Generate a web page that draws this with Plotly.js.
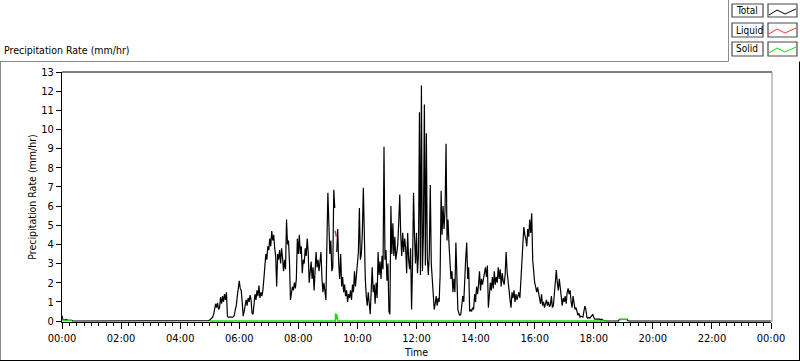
<!DOCTYPE html>
<html><head><meta charset="utf-8">
<script src="https://cdn.plot.ly/plotly-3.0.1.min.js"></script>
<style>html,body{margin:0;padding:0;background:#fff;}#chart{width:800px;height:361px;}</style>
</head><body><div id="chart"></div>
<script>
// ---------------- data ----------------
const tickMinutes = [0,120,240,360,480,600,720,840,960,1080,1200,1320,1440];
const tickLabels = ['00:00','02:00','04:00','06:00','08:00','10:00','12:00','14:00','16:00','18:00','20:00','22:00','00:00'];

const totalLeadMinutes = [0,1,2,4,8,12,16,20,22,288];
const totalLeadValues  = [0.28,0.1,0.06,0.05,0.08,0.05,0.05,0.03,0,0];

const totalStartMinute = 290;
const totalStepMinutes = 2;
const totalValues = [
0,0,0,0,0.02, 0.05,0.1,0.15,0.2,0.35, 0.6,0.9,0.7,0.95,0.6, 0.7,1.25,0.9,1.3,1.0,
1.4,1.1,1.5,0.25,0.2, 0.2,0.18,0.2,0.2,0.22, 0.3,0.6,0.8,1.3,1.6, 2.1,1.7,1.6,1.0,0.25,
0.5,0.9,1.1,0.8,1.2, 1.0,1.35,1.1,0.4,0.35, 0.9,1.4,1.1,1.6,1.3, 1.85,1.2,1.5,1.3,1.6,
2.2,3.0,3.5,3.2,3.9,3.7, 4.3,3.9,4.7,4.2,4.5, 3.8,3.4,1.8,3.5,3.2, 3.7,3.0,3.8,3.3,2.6,
3.2,2.7,5.3,4.0,4.2, 3.1,1.1,1.4,1.8,1.6, 2.0,1.7,2.2,4.3,3.5, 4.5,3.5,3.9,2.5,3.2,
3.0,3.8,3.4,4.3,3.6, 2.0,2.5,3.1,2.2,2.8, 1.6,2.5,3.6,2.8,3.2, 2.6,3.0,3.6,2.2,1.5,
2.0,1.6,1.1,4.0,6.7, 5.1,3.5,4.2,2.6,2.8,6.85, 5.9,null,3.6,4.8,3.0, 2.2,3.5,1.8,2.3,1.5,
1.9,1.3,1.6,1.0,1.4, 1.2,1.6,1.1,1.9,1.5, 2.6,1.8,2.4,3.3,3.6, 5.9,3.2,3.5,4.6,6.95,
4.0,2.2,1.3,0.8,1.5, 0.6,0.35,1.6,2.8,1.5, 1.9,0.9,2.0,1.2,3.6, 2.4,3.1,2.2,3.4,2.7,
9.1,3.2,3.7,2.1,3.0, 0.5,0.35,6.0,3.5,5.1, 3.4,4.4,3.2,3.6,4.0,5.2, 6.6,4.5,3.4,4.6,3.6,
4.3,3.8,2.5,4.6,3.2, 2.7,3.8,0.6,3.0,6.7, 4.4,3.0,4.6,2.5,3.5, 10.9,2.4,12.3,2.6,4.5,
11.3,2.9,9.8,3.3,2.4, 3.5,7.1,3.0,2.2,1.2, 0.6,0.9,1.3,0.8,1.2, 1.0,2.4,6.8,4.5,6.0,
4.8,5.8,9.25,4.2,5.3, 4.0,2.7,2.2,2.6,1.5, 2.2,1.5,4.1,2.0,0.6, 0.4,0.3,0.35,0.9,1.3,1.0,
2.8,3.3,4.1,2.2,2.8, 0.5,0.6,0.5,0.7,0.6, 1.4,1.0,1.8,1.4,1.9, 2.6,1.6,2.2,1.9,2.3,
2.5,2.8,2.3,2.9,0.7, 1.4,2.0,1.6,2.3,1.7, 2.6,1.9,2.3,2.0,2.8, 2.2,2.7,1.8,2.5,2.1,
1.9,2.4,3.6,2.6,2.2, 1.6,1.1,0.7,1.5,1.2, 1.6,1.0,1.4,1.1,1.3, 1.5,1.2,2.1,3.2,4.0,
4.9,4.5,4.3,3.9,4.8,4.4, 5.3,4.6,5.62,3.2,2.3, 2.0,1.8,1.5,1.75,1.4, 1.2,0.9,1.4,0.8,1.0,
0.7,0.9,1.1,0.8,1.0, 0.75,0.85,1.3,0.7,0.8, 1.5,2.1,2.66,2.0,1.6, 2.2,1.7,1.4,0.8,1.2,
1.0,1.3,0.9,1.5,1.7, 1.4,1.6,1.0,0.7,1.3, 0.8,0.6,0.7,0.5,0.3, 0.4,0.2,0.25,0.2,0.2,
0.5,0.78,0.6,0.2,0.15,0.18, 0.15,0.2,0.3,0.35,0.2, 0.1,0.1,0.1,0.08,0.1, 0.1,0.05,0.1,0.05,0.03,
0.02,0.01,0,0,0
];

const totalTailMinutes = [1112,1130,1132,1148,1150,1440];
const totalTailValues  = [0,0,0.08,0.08,0,0];

const liquidMinutes = [555,557];
const liquidValues  = [4.7,4.4];

const solidMinutes = [1,20,21,300,555,556,557,558,560,1106,1107,1132,1134,1146,1148];
const solidValues  = [0.03,0.03,null,0,0,0.4,0.1,0.35,0,0,null,0.04,0.08,0.08,0.04];

const seriesNames = ['Total','Liquid','Solid'];

// ---------------- build ----------------
const totalX = totalLeadMinutes.slice();
const totalY = totalLeadValues.slice();
totalValues.forEach((v,i)=>{ totalX.push(totalStartMinute + i*totalStepMinutes); totalY.push(v); });
totalTailMinutes.forEach((m,i)=>{ totalX.push(m); totalY.push(totalTailValues[i]); });

const FONT = '"DejaVu Sans Condensed", "Liberation Sans", sans-serif';
const FS = 10.5;
const L=62, T=72, PW=709, PH=250, W=800, H=361;
const px = x => (x-L)/PW;
const py = y => (T+PH-y)/PH;

function line(x0,y0,x1,y1,color,width){
  return {type:'line',xref:'paper',yref:'paper',x0:px(x0),y0:py(y0),x1:px(x1),y1:py(y1),
          line:{color:color,width:width||1}};
}
function rect(x0,y0,x1,y1){
  return {type:'rect',xref:'paper',yref:'paper',x0:px(x0),y0:py(y0),x1:px(x1),y1:py(y1),
          line:{color:'#4a4a4a',width:1.2},fillcolor:'rgba(0,0,0,0)'};
}
function zig(dy,color){
  const pts=[[769,15],[777,10],[785,14],[790,11.7],[796,9]];
  const d=pts.map((p,i)=>(i?'L':'M')+px(p[0])+','+py(p[1]+dy)).join(' ');
  return {type:'path',xref:'paper',yref:'paper',path:d,line:{color:color,width:1}};
}

const GRAY='#8c8c8c';
const shapes=[
  line(0,61.5,728.5,61.5,GRAY), line(728.5,61.5,728.5,0,GRAY),
  line(0.5,61.5,0.5,360,GRAY),
  line(799.5,61.5,799.5,360.5,'#000'), line(0,360.5,800,360.5,'#000'),
  line(62,72,772,72,'#000'), line(772,72,772,322,GRAY),
  rect(732,4,763,17), rect(768,4,797,17),
  rect(732,23,763,37), rect(768,23,797,37),
  rect(732,42,763,56), rect(768,42,797,56),
  zig(0,'#000'), zig(19,'#ff3030'), zig(38,'#10e010')
];
const legendY=[10.5,30,49];
const annotations = seriesNames.map((n,i)=>({
  text:n, xref:'paper', yref:'paper', x:px(733.5), y:py(legendY[i]), xanchor:'left', yanchor:'middle',
  showarrow:false, font:{family:FONT,size:10,color:'#000'}
}));

const traces=[
  {x:liquidMinutes,y:liquidValues,type:'scatter',mode:'lines',name:'Liquid',line:{color:'#ff2020',width:1.5},hoverinfo:'skip'},
  {x:totalX,y:totalY,type:'scatter',mode:'lines',name:'Total',line:{color:'#000',width:1.2},connectgaps:false,hoverinfo:'skip'},
  {x:solidMinutes,y:solidValues,type:'scatter',mode:'lines',name:'Solid',line:{color:'#10e010',width:1.5},connectgaps:false,hoverinfo:'skip'}
];

const layout={
  width:W,height:H,
  margin:{l:L,r:W-L-PW,t:T,b:H-T-PH,pad:0},
  paper_bgcolor:'#fff',plot_bgcolor:'#fff',
  showlegend:false,
  font:{family:FONT,size:FS,color:'#000'},
  title:{text:'Precipitation Rate (mm/hr)',xref:'container',yref:'container',x:4/W,xanchor:'left',
         y:1-50/H,yanchor:'middle',font:{family:FONT,size:FS,color:'#000'}},
  xaxis:{range:[0,1440],tickmode:'array',tickvals:tickMinutes,ticktext:tickLabels,layer:'below traces',
         showgrid:false,zeroline:false,showline:true,linecolor:'#000',linewidth:1,
         ticks:'outside',ticklen:6,tickcolor:'#000',tickwidth:1,
         minor:{tickmode:'linear',tick0:0,dtick:15,ticks:'outside',ticklen:3,tickcolor:'#000',tickwidth:1,showgrid:false},
         tickfont:{family:FONT,size:FS+0.5,color:'#000'},
         title:{text:'Time',standoff:4,font:{family:FONT,size:FS,color:'#000'}}},
  yaxis:{range:[-0.052,13],tickmode:'linear',tick0:0,dtick:1,layer:'below traces',
         showgrid:false,zeroline:false,showline:true,linecolor:'#000',linewidth:1,
         ticks:'outside',ticklen:5,tickcolor:'#000',tickwidth:1,
         tickfont:{family:FONT,size:FS+0.5,color:'#000'},
         title:{text:'Precipitation Rate (mm/hr)',standoff:2,font:{family:FONT,size:FS,color:'#000'}}},
  shapes:shapes,
  annotations:annotations
};
Plotly.newPlot('chart',traces,layout,{staticPlot:true,displayModeBar:false});
</script>
</body></html>
